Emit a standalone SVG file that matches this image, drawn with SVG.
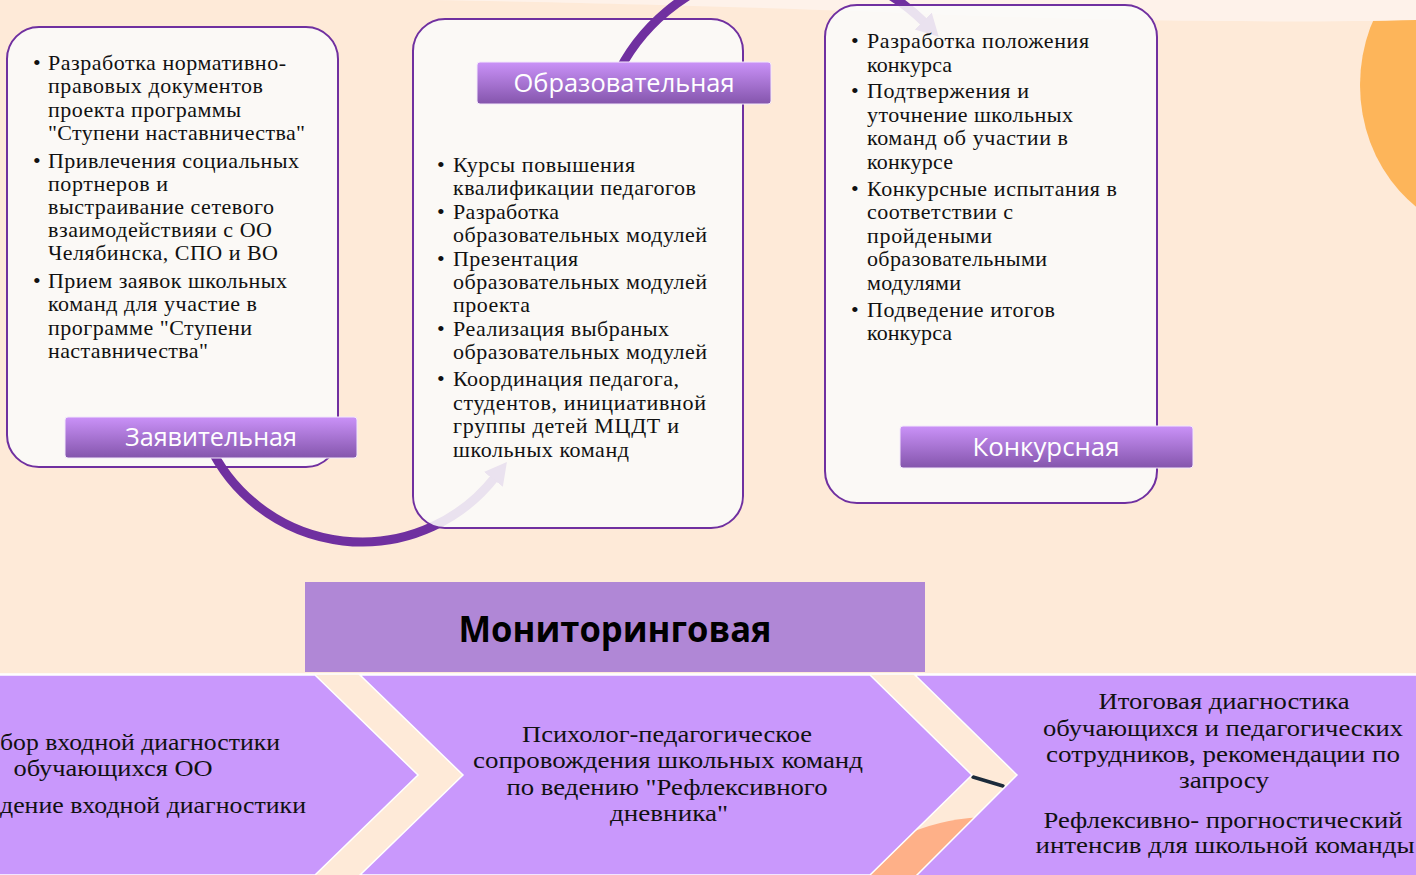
<svg xmlns="http://www.w3.org/2000/svg" width="1416" height="875" viewBox="0 0 1416 875">
<defs>
<style>
.box{fill:#FBFAF9;fill-opacity:0.88;stroke:#7030A0;stroke-width:2}
.t{font-family:"Liberation Serif","Times New Roman",serif;font-size:22px;fill:#111}
.ct{font-family:"Liberation Serif","Times New Roman",serif;font-size:24px;fill:#111;text-anchor:middle}
.lbl{font-family:"Open Sans","Liberation Sans",sans-serif;font-size:26px;fill:#fff;text-anchor:middle}
.arc{fill:none;stroke:#7030A0;stroke-width:9}
.chev{fill:#C998FC;stroke:#fff;stroke-width:1.5}
</style>
<linearGradient id="lg" x1="0" y1="0" x2="0" y2="1">
<stop offset="0" stop-color="#CA92F8"/>
<stop offset="1" stop-color="#8455AC"/>
</linearGradient>
<marker id="ah" markerUnits="userSpaceOnUse" markerWidth="26" markerHeight="26" viewBox="0 0 26 26" refX="3" refY="13" orient="auto">
<path d="M0,1 L22,13 L0,25 Z" fill="#7030A0"/>
</marker>
</defs>
<rect x="0" y="0" width="1416" height="875" fill="#FEEAD8"/>
<ellipse cx="1495" cy="85" rx="135" ry="150" fill="#FDB55A"/>
<path d="M430,0 L1416,0 L1416,20 C1300,23 1100,22 900,13 C700,5 550,2 430,0 Z" fill="#FEF2EA"/>

<g id="box1">
<rect class="box" x="7" y="27" width="331" height="440" rx="32"/>
<text class="t" x="33" y="70">•</text>
<text class="t" x="33" y="168">•</text>
<text class="t" x="33" y="288">•</text>
<text class="t" x="48" y="70" textLength="238" lengthAdjust="spacing">Разработка нормативно-</text>
<text class="t" x="48" y="93" textLength="215" lengthAdjust="spacing">правовых документов</text>
<text class="t" x="48" y="117" textLength="193" lengthAdjust="spacing">проекта программы</text>
<text class="t" x="48" y="140" textLength="257" lengthAdjust="spacing">"Ступени наставничества"</text>
<text class="t" x="48" y="168" textLength="251" lengthAdjust="spacing">Привлечения социальных</text>
<text class="t" x="48" y="191" textLength="120" lengthAdjust="spacing">портнеров и</text>
<text class="t" x="48" y="214" textLength="226" lengthAdjust="spacing">выстраивание сетевого</text>
<text class="t" x="48" y="237" textLength="224" lengthAdjust="spacing">взаимодействияи с ОО</text>
<text class="t" x="48" y="260" textLength="230" lengthAdjust="spacing">Челябинска, СПО и ВО</text>
<text class="t" x="48" y="288" textLength="239" lengthAdjust="spacing">Прием заявок школьных</text>
<text class="t" x="48" y="311" textLength="209" lengthAdjust="spacing">команд для участие в</text>
<text class="t" x="48" y="335" textLength="204" lengthAdjust="spacing">программе "Ступени</text>
<text class="t" x="48" y="358" textLength="160" lengthAdjust="spacing">наставничества"</text>
</g>

<g id="connectors">
<path id="arc1" class="arc" d="M208.8,444.4 A169,169 0 0 0 495.2,477.0" marker-end="url(#ah)"/>
</g>

<g id="box2">
<rect class="box" x="413" y="19" width="330" height="509" rx="32"/>
<text class="t" x="437" y="172">•</text>
<text class="t" x="437" y="219">•</text>
<text class="t" x="437" y="266">•</text>
<text class="t" x="437" y="336">•</text>
<text class="t" x="437" y="386">•</text>
<text class="t" x="453" y="172" textLength="182" lengthAdjust="spacing">Курсы повышения</text>
<text class="t" x="453" y="195" textLength="243" lengthAdjust="spacing">квалификации педагогов</text>
<text class="t" x="453" y="219" textLength="106" lengthAdjust="spacing">Разработка</text>
<text class="t" x="453" y="242" textLength="254" lengthAdjust="spacing">образовательных модулей</text>
<text class="t" x="453" y="266" textLength="125" lengthAdjust="spacing">Презентация</text>
<text class="t" x="453" y="289" textLength="254" lengthAdjust="spacing">образовательных модулей</text>
<text class="t" x="453" y="312" textLength="77" lengthAdjust="spacing">проекта</text>
<text class="t" x="453" y="336" textLength="216" lengthAdjust="spacing">Реализация выбраных</text>
<text class="t" x="453" y="359" textLength="254" lengthAdjust="spacing">образовательных модулей</text>
<text class="t" x="453" y="386" textLength="226" lengthAdjust="spacing">Координация педагога,</text>
<text class="t" x="453" y="410" textLength="253" lengthAdjust="spacing">студентов, инициативной</text>
<text class="t" x="453" y="433" textLength="226" lengthAdjust="spacing">группы детей МЦДТ и</text>
<text class="t" x="453" y="457" textLength="176" lengthAdjust="spacing">школьных команд</text>
</g>

<g id="connectors2">
<path id="arc2" class="arc" d="M614.5,80 A192,192 0 0 1 925.3,23.2" marker-end="url(#ah)"/>
</g>

<g id="box3">
<rect class="box" x="825" y="5" width="332" height="498" rx="32"/>
<text class="t" x="851" y="48">•</text>
<text class="t" x="851" y="98">•</text>
<text class="t" x="851" y="196">•</text>
<text class="t" x="851" y="317">•</text>
<text class="t" x="867" y="48" textLength="222" lengthAdjust="spacing">Разработка положения</text>
<text class="t" x="867" y="72" textLength="85" lengthAdjust="spacing">конкурса</text>
<text class="t" x="867" y="98" textLength="162" lengthAdjust="spacing">Подтвержения и</text>
<text class="t" x="867" y="122" textLength="206" lengthAdjust="spacing">уточнение школьных</text>
<text class="t" x="867" y="145" textLength="201" lengthAdjust="spacing">команд об участии в</text>
<text class="t" x="867" y="169" textLength="86" lengthAdjust="spacing">конкурсе</text>
<text class="t" x="867" y="196" textLength="250" lengthAdjust="spacing">Конкурсные испытания в</text>
<text class="t" x="867" y="219" textLength="146" lengthAdjust="spacing">соответствии с</text>
<text class="t" x="867" y="243" textLength="125" lengthAdjust="spacing">пройдеными</text>
<text class="t" x="867" y="266" textLength="180" lengthAdjust="spacing">образовательными</text>
<text class="t" x="867" y="290" textLength="94" lengthAdjust="spacing">модулями</text>
<text class="t" x="867" y="317" textLength="188" lengthAdjust="spacing">Подведение итогов</text>
<text class="t" x="867" y="340" textLength="85" lengthAdjust="spacing">конкурса</text>
</g>

<g id="label1">
<rect x="65" y="417" width="292" height="41" rx="3" fill="url(#lg)" stroke="#F3E8FB" stroke-width="1"/>
<text class="lbl" x="211" y="446" textLength="172" lengthAdjust="spacingAndGlyphs">Заявительная</text>
</g>
<g id="label2">
<rect x="477" y="62" width="294" height="42" rx="3" fill="url(#lg)" stroke="#F3E8FB" stroke-width="1"/>
<text class="lbl" x="624" y="92" textLength="221" lengthAdjust="spacingAndGlyphs">Образовательная</text>
</g>
<g id="label3">
<rect x="900" y="426" width="293" height="42" rx="3" fill="url(#lg)" stroke="#F3E8FB" stroke-width="1"/>
<text class="lbl" x="1046" y="456" textLength="147" lengthAdjust="spacingAndGlyphs">Конкурсная</text>
</g>

<g id="monitoring">
<rect x="305" y="582" width="620" height="90" fill="#B087D6"/>
<text x="615" y="642" font-family="'Open Sans','Liberation Sans',sans-serif" font-size="36" font-weight="bold" fill="#000" text-anchor="middle" textLength="313" lengthAdjust="spacingAndGlyphs">Мониторинговая</text>
</g>

<line x1="0" y1="674" x2="1416" y2="674" stroke="#fff" stroke-width="1.5"/>
<circle cx="990" cy="1027" r="210" fill="#FEB088"/>
<line x1="973" y1="777" x2="1003" y2="786" stroke="#1B2A3A" stroke-width="3.5" stroke-linecap="round"/>

<g id="step1">
<polygon class="chev" points="-2,675 315,675 418,775 315,875 -2,875"/>
<text class="ct" x="140" y="750" textLength="280" lengthAdjust="spacingAndGlyphs">бор входной диагностики</text>
<text class="ct" x="113" y="776" textLength="199" lengthAdjust="spacingAndGlyphs">обучающихся ОО</text>
<text class="ct" x="153" y="813" textLength="306" lengthAdjust="spacingAndGlyphs">дение входной диагностики</text>
</g>
<g id="step2">
<polygon class="chev" points="360,675 870,675 972,775 870,875 360,875 463,775"/>
<text class="ct" x="667" y="742" textLength="290" lengthAdjust="spacingAndGlyphs">Психолог-педагогическое</text>
<text class="ct" x="668" y="768" textLength="390" lengthAdjust="spacingAndGlyphs">сопровождения школьных команд</text>
<text class="ct" x="667" y="795" textLength="321" lengthAdjust="spacingAndGlyphs">по ведению "Рефлексивного</text>
<text class="ct" x="669" y="821" textLength="118" lengthAdjust="spacingAndGlyphs">дневника"</text>
</g>
<g id="step3">
<polygon class="chev" points="915,675 1418,675 1418,877 915,877 1017,775"/>
<text class="ct" x="1224" y="709" textLength="251" lengthAdjust="spacingAndGlyphs">Итоговая диагностика</text>
<text class="ct" x="1223" y="736" textLength="360" lengthAdjust="spacingAndGlyphs">обучающихся и педагогических</text>
<text class="ct" x="1223" y="762" textLength="354" lengthAdjust="spacingAndGlyphs">сотрудников, рекомендации по</text>
<text class="ct" x="1224" y="788" textLength="90" lengthAdjust="spacingAndGlyphs">запросу</text>
<text class="ct" x="1223" y="828" textLength="359" lengthAdjust="spacingAndGlyphs">Рефлексивно- прогностический</text>
<text class="ct" x="1225" y="853" textLength="379" lengthAdjust="spacingAndGlyphs">интенсив для школьной команды</text>
</g>
</svg>
